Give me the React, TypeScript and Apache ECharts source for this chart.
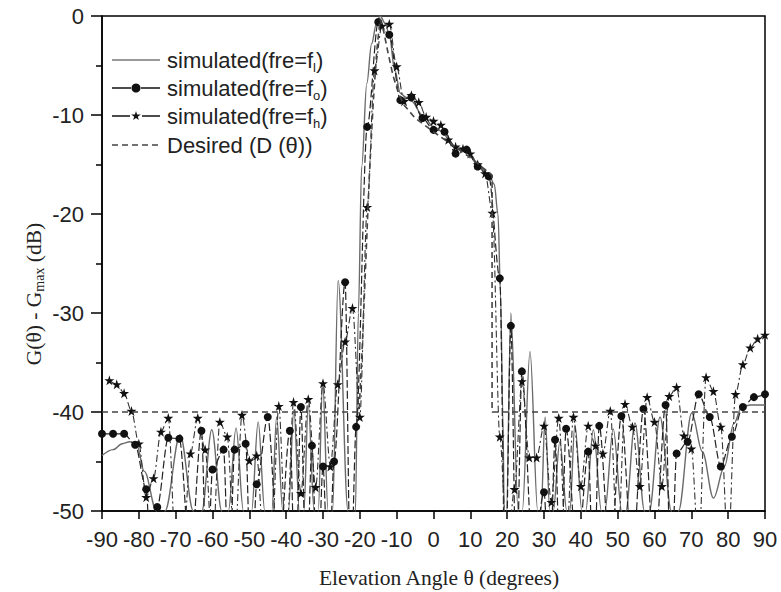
import React, { useEffect, useRef } from "react";
import * as echarts from "echarts";

// ---------- data ----------
const xTicks = [-90, -80, -70, -60, -50, -40, -30, -20, -10, 0, 10, 20, 30, 40, 50, 60, 70, 80, 90];
const yTicks = [0, -10, -20, -30, -40, -50];

// simulated f_l (solid grey curve): [angle, dB]
const fLowCurve: [number, number][] = [
  [-90, -44.4], [-87, -43.8], [-84.5, -43.2], [-82.4, -43.0], [-80.6, -43.3], [-78.5, -46], [-75.2, -50], [-74, -58],
  [-72.9, -50], [-68.8, -42.3], [-65.2, -50], [-64, -58], [-62.9, -50], [-60.2, -41.8], [-57.5, -50], [-56.6, -58],
  [-55.7, -50], [-53.6, -41.6], [-51.6, -50], [-50.5, -58], [-49.4, -50], [-47.6, -41.0], [-45.8, -50], [-44.8, -58],
  [-43.9, -50], [-42.6, -40.5], [-40.9, -50], [-40.1, -58], [-39.4, -50], [-37.9, -39.8], [-36.4, -50], [-35.8, -58],
  [-35.2, -50], [-34, -39.3], [-32.4, -50], [-31.8, -58], [-31.3, -50], [-30.1, -37.1], [-28.6, -50], [-28, -58],
  [-27.4, -50], [-25.9, -26.7], [-23.2, -50], [-22.2, -58], [-21.2, -50], [-20.4, -30], [-19.5, -15.2], [-18.1, -6.8],
  [-16.8, -2.8], [-15.5, -0.8], [-14.5, 0], [-13, -0.8], [-12, -2], [-10.5, -5.5], [-9, -7.8], [-7.5, -8.2],
  [-6, -8.6], [-3, -10], [0, -11.2], [3, -11.8], [6, -13.3], [9, -13.7], [12, -15], [15, -16], [16.5, -17],
  [17.5, -20], [18.2, -28], [18.8, -40], [19.2, -50], [19.5, -58], [19.8, -50], [21, -30], [23, -50], [23.5, -58],
  [24.1, -50], [26.2, -33.9], [28.3, -50], [28.7, -58], [29.2, -50], [30.3, -40.5], [31.6, -50], [32, -58],
  [32.5, -50], [34.3, -43], [36.2, -50], [36.6, -58], [37, -50], [38.4, -41.3], [40.3, -50], [40.8, -58],
  [41.3, -50], [43.4, -41.8], [45.6, -50], [46, -58], [46.5, -50], [48.8, -41.7], [51.1, -50], [51.6, -58],
  [52.2, -50], [54.7, -41.1], [57.3, -50], [57.9, -58], [58.6, -50], [61.5, -40.5], [64.6, -50], [65.5, -58],
  [66.5, -50], [70.1, -40.1], [73, -44], [76, -48.7], [79, -45.5], [81.5, -41.2], [83.7, -39.5], [86, -39.3], [90, -39.3],
];

// simulated f_0 (circles, every 3 degrees)
const f0Angles = [
  -90, -87, -84, -81, -78, -75, -72, -69, -66, -63, -60, -57, -54, -51, -48, -45, -42, -39, -36, -33, -30,
  -27, -24, -21, -18, -15, -12, -9, -6, -3, 0, 3, 6, 9, 12, 15, 18, 21, 24, 27, 30, 33, 36, 39, 42, 45, 48,
  51, 54, 57, 60, 63, 66, 69, 72, 75, 78, 81, 84, 87, 90,
];
const f0Values = [
  -42.2, -42.2, -42.2, -43.3, -47.8, -49.6, -42.6, -42.7, -55, -41.9, -45.8, -43.8, -43.8, -43.2, -47.3, -40.5,
  -55, -41.9, -39.5, -43.4, -45.5, -45.0, -26.9, -41.5, -11.2, -0.6, -1.9, -8.5, -8.2, -10.3, -11.5, -11.7,
  -13.9, -13.5, -15.2, -16.2, -26.5, -31.3, -35.9, -55, -48.1, -42.8, -41.7, -55, -44.0, -41.4, -55, -40.4,
  -55, -39.7, -55, -39.3, -44.2, -43.0, -38.2, -40.5, -45.5, -42.5, -39.5, -38.5, -38.2,
];
// where the f_0 curve dips below the plotted range between circles
const f0NullAngles = [-76.5, -61.5, -55.5, -49.5, -37.5, -34.5, -31.5, -28.5, -22.5, 19.5, 22.5, 31.5, 34.5, 43.5, 64.5];
const f0NullValues = [-58, -58, -58, -58, -58, -58, -58, -58, -58, -58, -58, -58, -58, -58, -58];

// simulated f_h (stars, every 2 degrees)
const fhAngles = [
  -88, -86, -84, -82, -80, -78, -76, -74, -72, -70, -68, -66, -64, -62, -60, -58, -56, -54, -52, -50, -48, -46,
  -44, -42, -40, -38, -36, -34, -32, -30, -28, -26, -24, -22, -20, -18, -16, -14, -12, -10, -8, -6, -4, -2, 0,
  2, 4, 6, 8, 10, 12, 14, 16, 18, 20, 22, 24, 26, 28, 30, 32, 34, 36, 38, 40, 42, 44, 46, 48, 50, 52, 54, 56,
  58, 60, 62, 64, 66, 68, 70, 72, 74, 76, 78, 80, 82, 84, 86, 88, 90,
];
const fhValues = [
  -36.8, -37.2, -38.1, -39.9, -43.2, -48.6, -46.7, -42.0, -40.6, -54, -54, -44.2, -40.6, -43.8, -54, -41.0, -42.5,
  -54, -40.3, -44.9, -44.4, -54, -54, -39.4, -54, -39.0, -48.2, -38.7, -47.6, -37.1, -45.5, -37.2, -32.9, -29.5,
  -40.5, -19.3, -5.5, -1.0, -0.8, -5.1, -8.6, -8.0, -8.7, -10.2, -10.6, -11.0, -12.5, -13.2, -13.4, -13.9, -15.0,
  -15.9, -19.9, -42.5, -54, -47.8, -36.9, -44.6, -44.6, -41.4, -49.1, -40.6, -54, -40.5, -47.5, -41.4, -43.4,
  -44.2, -39.9, -54, -39.2, -41.5, -47.5, -38.5, -41.0, -47.5, -38.4, -37.5, -42.4, -43.7, -54, -36.5, -37.9,
  -41.5, -54, -38.2, -35.2, -33.5, -32.6, -32.2,
];

// desired pattern D(theta)
const desiredCurve: [number, number][] = [
  [-90, -40], [-20.2, -40], [-19.3, -33], [-18.4, -25], [-17.4, -16], [-16.4, -9], [-15.4, -3.5], [-14.5, -0.3],
  [-13.5, -1.6], [-12.3, -3.8], [-11, -6], [-9.5, -7.8], [-8, -9], [-5, -10.3], [0, -11.7], [5, -13], [10, -14.3],
  [15, -15.8], [15.9, -16.1], [15.9, -40], [90, -40],
];

const seriesNames = ["fl", "f0", "fh", "desired"];
const legendLabels = [
  "simulated(fre=f{sub|l})",
  "simulated(fre=f{sub|o})",
  "simulated(fre=f{sub|h})",
  "Desired (D (\u03b8))",
];
const xTitle = "Elevation Angle \u03b8 (degrees)";
const yTitle = "G(\u03b8) - G{sub|max} (dB)";

const STAR_D = "M50,0 L61,35 L98,35 L68,57 L79,91 L50,70 L21,91 L32,57 L2,35 L39,35 Z";
const STAR = "path://" + STAR_D;
const SANS = "'Liberation Sans', Arial, Helvetica, sans-serif";
const SERIF = "'Liberation Serif', 'Times New Roman', serif";

let starRegistered = false;

export default function App() {
  const ref = useRef<HTMLDivElement>(null);
  useEffect(() => {
    if (!ref.current) return;
    if (!starRegistered) {
      echarts.graphic.registerShape("legendStar", echarts.graphic.extendPath(STAR_D, {}));
      starRegistered = true;
    }
    const chart = echarts.init(ref.current, undefined, { renderer: "svg" });

    const f0Data: any[] = f0Angles.map((a, i) => ({ value: [a, f0Values[i]] }));
    f0NullAngles.forEach((a, i) => f0Data.push({ value: [a, f0NullValues[i]], symbol: "none" }));
    f0Data.sort((p, q) => p.value[0] - q.value[0]);
    const fhData = fhAngles.map((a, i) => [a, fhValues[i]]);

    // legend drawn as graphic elements
    const lx0 = 112, lx1 = 160, tx = 167;
    const rows = [60, 88, 116, 145];
    const legendStyles = [
      { stroke: "#777", lineWidth: 1.5 },
      { stroke: "#111", lineWidth: 1.5 },
      { stroke: "#111", lineWidth: 1.5 },
      { stroke: "#444", lineWidth: 1.5, lineDash: [6, 4] },
    ];
    const gfx: any[] = [];
    rows.forEach((ry, i) => {
      gfx.push({
        type: "line",
        shape: { x1: lx0, y1: ry, x2: lx1, y2: ry },
        style: legendStyles[i],
        silent: true,
      });
      gfx.push({
        type: "text",
        x: tx,
        y: ry,
        style: {
          text: legendLabels[i],
          fontFamily: SANS,
          fontSize: 22,
          fill: "#222",
          verticalAlign: "middle",
          rich: { sub: { fontFamily: SANS, fontSize: 13, fill: "#222", padding: [14, 0, 0, 0] } },
        },
        silent: true,
      });
    });
    gfx.push({ type: "rect", shape: { x: 131, y: rows[1] - 6, width: 10, height: 12 }, style: { fill: "#fff" }, silent: true });
    gfx.push({ type: "circle", shape: { cx: 136, cy: rows[1], r: 4.5 }, style: { fill: "#111" }, silent: true });
    gfx.push({ type: "rect", shape: { x: 130, y: rows[2] - 6, width: 12, height: 12 }, style: { fill: "#fff" }, silent: true });
    gfx.push({
      type: "legendStar",
      x: 131,
      y: rows[2] - 5,
      scaleX: 0.1,
      scaleY: 0.1,
      style: { fill: "#111" },
      silent: true,
    });
    // axis titles
    gfx.push({
      type: "text",
      x: 439,
      y: 578,
      style: { text: xTitle, fontFamily: SERIF, fontSize: 21.5, fill: "#222", align: "center", verticalAlign: "middle" },
      silent: true,
    });
    gfx.push({
      type: "text",
      x: 34,
      y: 294,
      rotation: Math.PI / 2,
      style: {
        text: yTitle,
        fontFamily: SERIF,
        fontSize: 21.5,
        fill: "#222",
        align: "center",
        verticalAlign: "middle",
        rich: { sub: { fontFamily: SERIF, fontSize: 14, fill: "#222", padding: [11, 0, 0, 0] } },
      },
      silent: true,
    });

    chart.setOption({
      animation: false,
      backgroundColor: "#fff",
      grid: { left: 102, right: 16, top: 16, bottom: 81, show: true, borderColor: "#000", borderWidth: 1.5 },
      graphic: gfx,
      xAxis: {
        type: "value",
        min: -90,
        max: 90,
        interval: 10,
        axisLine: { onZero: false, lineStyle: { color: "#000", width: 1.5 } },
        axisTick: { length: 8, lineStyle: { color: "#000", width: 1.5 } },
        axisLabel: {
          margin: 17,
          fontFamily: SANS,
          fontSize: 22,
          color: "#222",
          customValues: xTicks,
        },
        splitLine: { show: false },
      },
      yAxis: {
        type: "value",
        min: -50,
        max: 0,
        interval: 10,
        axisLine: { onZero: false, lineStyle: { color: "#000", width: 1.5 } },
        axisTick: { length: 11, lineStyle: { color: "#000", width: 1.5 } },
        minorTick: { show: true, splitNumber: 2, length: 6, lineStyle: { color: "#000", width: 1.5 } },
        axisLabel: { margin: 18, fontFamily: SANS, fontSize: 22, color: "#222", customValues: yTicks },
        splitLine: { show: false },
      },
      series: [
        {
          name: seriesNames[0],
          type: "line",
          data: fLowCurve,
          smooth: 0.35,
          smoothMonotone: "x",
          symbol: "none",
          clip: true,
          lineStyle: { color: "#6a6a6a", width: 1.4 },
          itemStyle: { color: "#6a6a6a" },
          z: 2,
        },
        {
          name: seriesNames[1],
          type: "line",
          data: f0Data,
          smooth: 0.3,
          smoothMonotone: "x",
          symbol: "circle",
          symbolSize: 8,
          showAllSymbol: true,
          clip: true,
          lineStyle: { color: "#222", width: 1.2, type: [8, 3] },
          itemStyle: { color: "#111" },
          z: 3,
        },
        {
          name: seriesNames[2],
          type: "line",
          data: fhData,
          smooth: 0.3,
          smoothMonotone: "x",
          symbol: STAR,
          symbolSize: 10,
          showAllSymbol: true,
          clip: true,
          lineStyle: { color: "#333", width: 1.1, type: [7, 3, 2, 3] },
          itemStyle: { color: "#111" },
          z: 3,
        },
        {
          name: seriesNames[3],
          type: "line",
          data: desiredCurve,
          symbol: "none",
          clip: true,
          lineStyle: { color: "#444", width: 1.6, type: [6, 4] },
          itemStyle: { color: "#444" },
          z: 4,
        },
      ],
    });
    return () => chart.dispose();
  }, []);

  return (
    <div
      ref={ref}
      style={{ position: "fixed", left: 0, top: 0, width: 781, height: 592, background: "#fff" }}
    />
  );
}
